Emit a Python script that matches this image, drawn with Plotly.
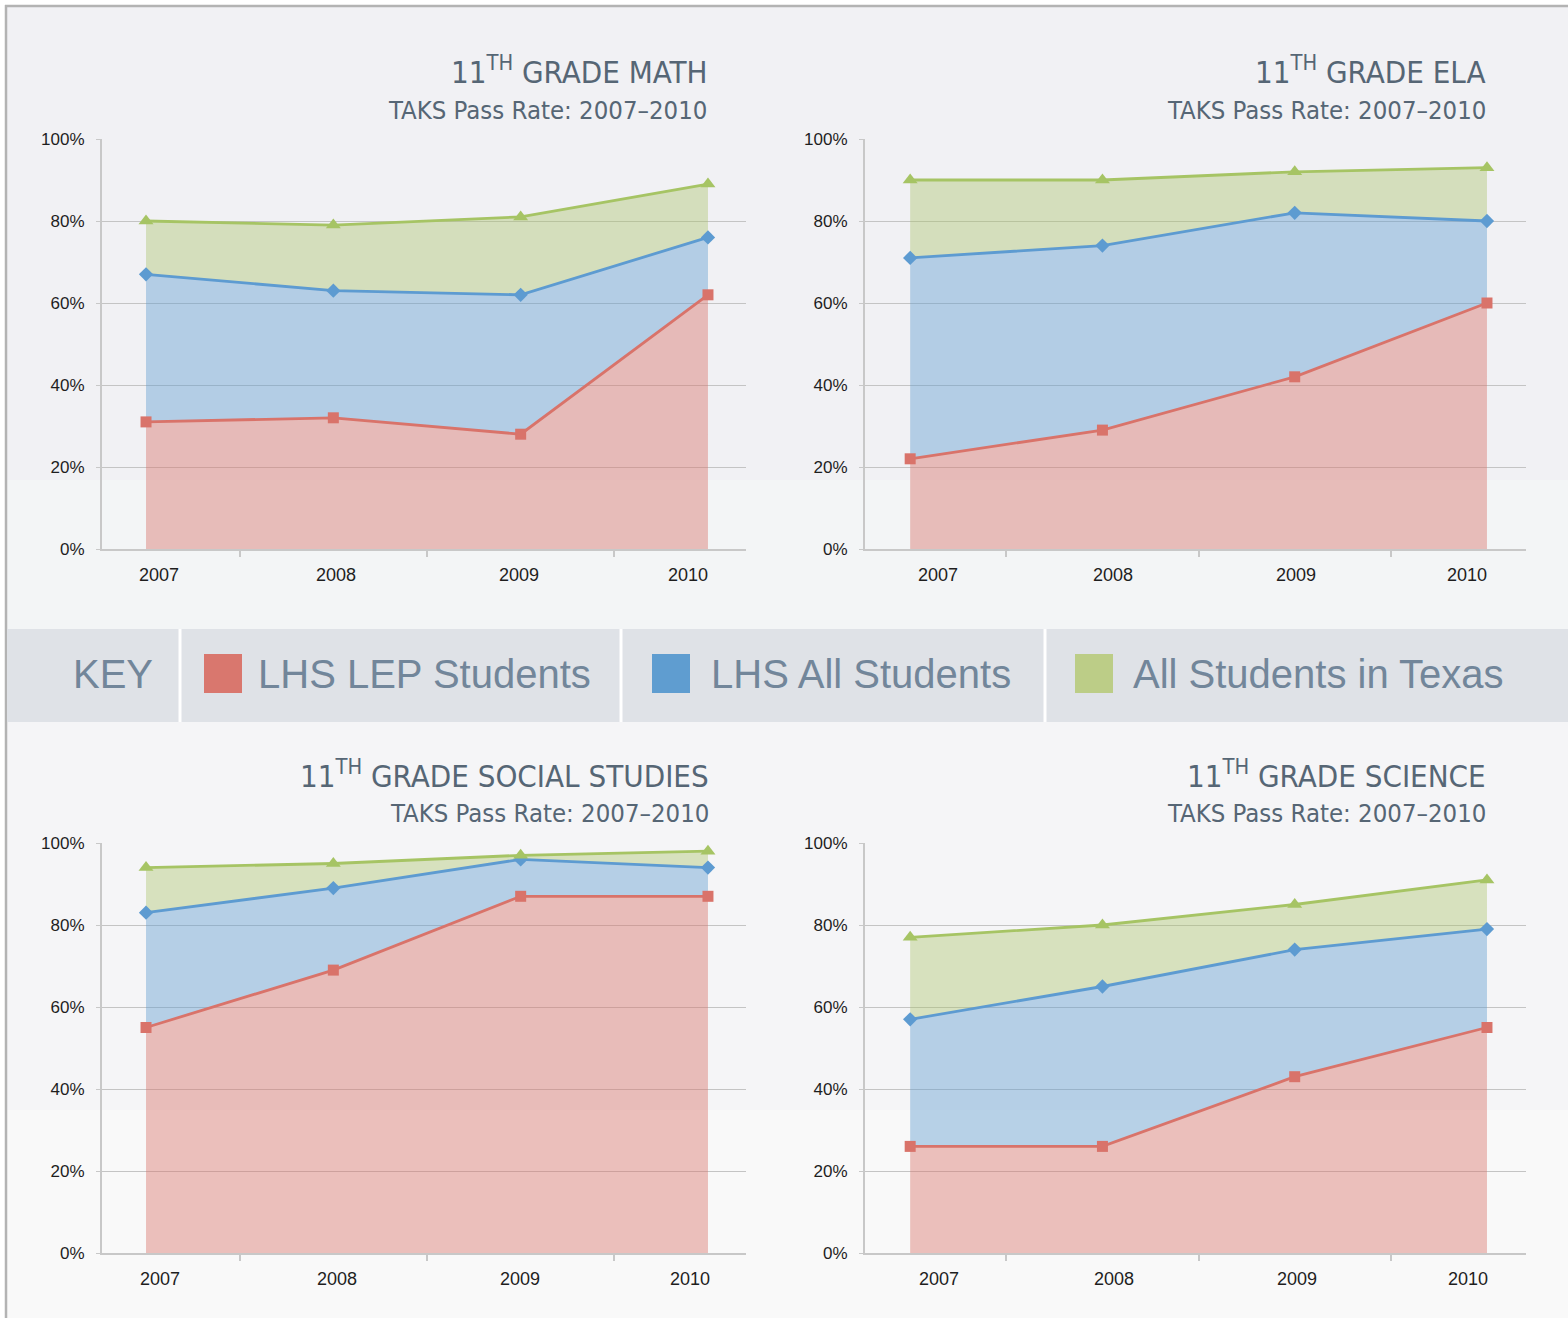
import plotly.graph_objects as go

# ---------------- data ----------------
years = [2007, 2008, 2009, 2010]
year_labels = ["2007", "2008", "2009", "2010"]

subjects = ["MATH", "ELA", "SOCIAL STUDIES", "SCIENCE"]
subtitle = "TAKS Pass Rate: 2007\u20132010"

math_lep = [31, 32, 28, 62]
math_all = [67, 63, 62, 76]
math_tx = [80, 79, 81, 89]

ela_lep = [22, 29, 42, 60]
ela_all = [71, 74, 82, 80]
ela_tx = [90, 90, 92, 93]

ss_lep = [55, 69, 87, 87]
ss_all = [83, 89, 96, 94]
ss_tx = [94, 95, 97, 98]

sci_lep = [26, 26, 43, 55]
sci_all = [57, 65, 74, 79]
sci_tx = [77, 80, 85, 91]

series_names = ["LHS LEP Students", "LHS All Students", "All Students in Texas"]
y_ticks = [0, 20, 40, 60, 80, 100]
y_tick_text = ["0%", "20%", "40%", "60%", "80%", "100%"]

# ---------------- style ----------------
W, H = 1568, 1318
LINE = ["#d9736a", "#5d9bd1", "#a6c464"]
FILL = ["rgba(217,117,108,0.44)", "rgba(94,155,208,0.42)", "rgba(169,196,106,0.40)"]
KEYSQ = ["#d9776e", "#5f9dd0", "#bccd87"]
SYMBOL = ["square", "diamond", "triangle-up"]
MSIZE = [11, 11, 13]
TITLE_COLOR = "#566675"
AXIS_COLOR = "#c8c8c8"
TITLE_FONT = "Liberation Sans Narrow, Arial Narrow, DejaVu Sans Condensed, sans-serif"
TICK_FONT = "Liberation Sans, Arial, sans-serif"


def fx(px):
    return px / W


def fy(py):
    return 1 - py / H


panels = [
    dict(data=(math_lep, math_all, math_tx), x0=102, x1=746, top=139, bot=549,
         tright=709, ty=70, sy=110, shifts=[13, 3, -2, -20]),
    dict(data=(ela_lep, ela_all, ela_tx), x0=865, x1=1526, top=139, bot=549,
         tright=1488, ty=70, sy=110, shifts=[28, 11, 1, -20]),
    dict(data=(ss_lep, ss_all, ss_tx), x0=102, x1=746, top=843, bot=1253,
         tright=711, ty=774, sy=813, shifts=[14, 4, -1, -18]),
    dict(data=(sci_lep, sci_all, sci_tx), x0=865, x1=1526, top=843, bot=1253,
         tright=1488, ty=774, sy=813, shifts=[29, 12, 2, -19]),
]

fig = go.Figure()
annotations = []
shapes = []

# background bands and border
bands = [
    (6, 480, "#f1f1f4"),
    (480, 629, "#f3f5f6"),
    (722, 1110, "#f5f5f7"),
    (1110, 1318, "#f9f9f9"),
]
for y0, y1, c in bands:
    shapes.append(dict(type="rect", xref="paper", yref="paper", x0=fx(6), x1=1,
                       y0=fy(y1), y1=fy(y0), fillcolor=c, line_width=0, layer="below"))
shapes.append(dict(type="line", xref="paper", yref="paper", x0=fx(6), x1=fx(6),
                   y0=0, y1=fy(5), line=dict(color="#b3b3b3", width=2.5), layer="below"))
shapes.append(dict(type="line", xref="paper", yref="paper", x0=fx(5), x1=1,
                   y0=fy(6), y1=fy(6), line=dict(color="#b3b3b3", width=2.5), layer="below"))

for i, p in enumerate(panels):
    ax = "" if i == 0 else str(i + 1)
    xref, yref = "x" + ax, "y" + ax
    fills = ["tozeroy", "tonexty", "tonexty"]
    for k in range(3):
        fig.add_trace(go.Scatter(
            x=years, y=p["data"][k], mode="lines+markers", name=series_names[k],
            line=dict(color=LINE[k], width=2.8), fill=fills[k], fillcolor=FILL[k],
            marker=dict(symbol=SYMBOL[k], size=MSIZE[k], color=LINE[k]),
            xaxis=xref, yaxis=yref, showlegend=False, hoverinfo="skip"))
    fig.layout["xaxis" + ax] = dict(
        domain=[fx(p["x0"]), fx(p["x1"])], range=[2006.765, 2010.203],
        anchor=yref, tickvals=[2007.5, 2008.5, 2009.5], showticklabels=False,
        ticks="outside", ticklen=6, tickcolor=AXIS_COLOR, tickwidth=1.5,
        showline=True, linecolor=AXIS_COLOR, linewidth=2, automargin=False,
        showgrid=False, zeroline=False, fixedrange=True)
    fig.layout["yaxis" + ax] = dict(
        domain=[fy(p["bot"]), fy(p["top"])], range=[0, 100], anchor=xref,
        tickmode="array", tickvals=y_ticks, ticktext=y_tick_text,
        ticks="outside", ticklen=4, tickcolor=AXIS_COLOR, ticklabelstandoff=8,
        tickfont=dict(family=TICK_FONT, size=17, color="#1e1e1e"),
        showline=True, linecolor=AXIS_COLOR, linewidth=2, automargin=False,
        showgrid=True, gridcolor="#c4c4c4", gridwidth=1.3, zeroline=False,
        fixedrange=True)
    for j, yr in enumerate(years):
        annotations.append(dict(x=yr, y=0, xref=xref, yref=yref, text=year_labels[j],
                                showarrow=False, xshift=p["shifts"][j], yshift=-26,
                                xanchor="center", yanchor="middle",
                                font=dict(family=TICK_FONT, size=18, color="#1e1e1e")))
    annotations.append(dict(x=fx(p["tright"]), y=fy(p["ty"]), xref="paper", yref="paper",
                            text="11<sup>TH</sup> GRADE " + subjects[i], showarrow=False,
                            xanchor="right", yanchor="middle",
                            font=dict(family=TITLE_FONT, size=31, color=TITLE_COLOR)))
    annotations.append(dict(x=fx(p["tright"]), y=fy(p["sy"]), xref="paper", yref="paper",
                            text=subtitle, showarrow=False, xanchor="right", yanchor="middle",
                            font=dict(family=TITLE_FONT, size=25.5, color=TITLE_COLOR)))

# key band
shapes.append(dict(type="rect", xref="paper", yref="paper", x0=fx(7), x1=1,
                   y0=fy(722), y1=fy(629), fillcolor="#dfe2e7", line_width=0, layer="below"))
for sx in [180, 621, 1045]:
    shapes.append(dict(type="line", xref="paper", yref="paper", x0=fx(sx), x1=fx(sx),
                       y0=fy(722), y1=fy(629), line=dict(color="#ffffff", width=3),
                       layer="below"))
KEY_FONT = dict(family="Liberation Sans, Arial, sans-serif", size=40, color="#72869a")
annotations.append(dict(x=fx(113), y=fy(674), xref="paper", yref="paper", text="KEY",
                        showarrow=False, xanchor="center", yanchor="middle", font=KEY_FONT))
key_sq_x = [204, 652, 1075]
key_txt_x = [256, 709, 1131]
for k in range(3):
    shapes.append(dict(type="rect", xref="paper", yref="paper",
                       x0=fx(key_sq_x[k]), x1=fx(key_sq_x[k] + 38),
                       y0=fy(693), y1=fy(654), fillcolor=KEYSQ[k], line_width=0))
    annotations.append(dict(x=fx(key_txt_x[k]), y=fy(674), xref="paper", yref="paper",
                            text=series_names[k], showarrow=False, xanchor="left",
                            yanchor="middle", font=KEY_FONT))

fig.update_layout(
    width=W, height=H, autosize=False,
    margin=dict(l=0, r=0, t=0, b=0, pad=0, autoexpand=False),
    paper_bgcolor="#ffffff", plot_bgcolor="rgba(0,0,0,0)",
    annotations=annotations, shapes=shapes, showlegend=False,
)

fig.write_html(
    "out.html",
    config={"displayModeBar": False, "responsive": False},
    post_script=(
        "document.documentElement.style.overflow='hidden';"
        "document.body.style.margin='0';document.body.style.overflow='hidden';"
        "var d=document.getElementById('{plot_id}');"
        "d.style.position='fixed';d.style.top='0px';d.style.left='0px';"
    ),
)
